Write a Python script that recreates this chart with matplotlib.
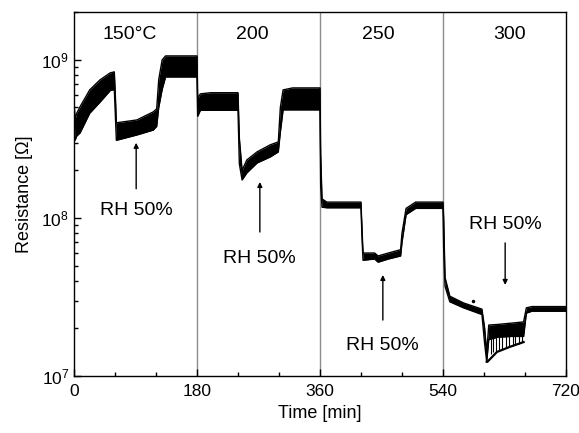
import numpy as np
import matplotlib
matplotlib.use('Agg')
from matplotlib import pyplot as plt
from matplotlib.ticker import LogLocator, FixedLocator, NullFormatter

plt.rcParams['font.family'] = ['Liberation Sans', 'DejaVu Sans']

# time [min], upper / lower edge of the noisy trace [Ohm]
time = [0, 1.5, 4, 8.8, 23, 38, 53, 59, 60.5, 62, 92, 116, 121, 124, 129, 134, 180,
        181, 185, 200, 240, 242, 246, 253, 268, 287, 299, 302, 306, 320, 360,
        361, 363, 370, 420, 421.5, 423, 440, 445, 460, 478, 480, 486, 500, 540,
        541, 543, 550, 570, 597, 601, 604, 607, 620, 640, 658, 662, 670, 720]
r_upper = [5.6e8, 4.2e8, 4.6e8, 5.05e8, 6.46e8, 7.47e8, 8.28e8, 8.4e8, 6.0e8, 4.0e8, 4.17e8, 4.69e8, 4.9e8, 7.5e8, 1.0e9, 1.06e9, 1.06e9,
           5.75e8, 6.1e8, 6.2e8, 6.2e8, 3.2e8, 2.0e8, 2.33e8, 2.62e8, 2.9e8, 3.03e8, 5.0e8, 6.46e8, 6.65e8, 6.65e8,
           2.5e8, 1.32e8, 1.26e8, 1.26e8, 8.5e7, 6.0e7, 6.0e7, 5.75e7, 6.0e7, 6.3e7, 8.0e7, 1.15e8, 1.26e8, 1.26e8,
           1.0e8, 4.2e7, 3.2e7, 2.9e7, 2.65e7, 2.0e7, 1.4e7, 2.1e7, 2.12e7, 2.16e7, 2.2e7, 2.7e7, 2.75e7, 2.75e7]
r_lower = [4.6e8, 3.1e8, 3.3e8, 3.45e8, 4.6e8, 5.4e8, 6.4e8, 6.5e8, 4.5e8, 3.1e8, 3.35e8, 3.6e8, 3.8e8, 5.0e8, 6.5e8, 7.8e8, 7.8e8,
           4.4e8, 4.8e8, 4.8e8, 4.8e8, 2.2e8, 1.74e8, 1.93e8, 2.23e8, 2.43e8, 2.62e8, 3.5e8, 4.83e8, 4.83e8, 4.83e8,
           1.6e8, 1.17e8, 1.16e8, 1.16e8, 7.5e7, 5.4e7, 5.5e7, 5.25e7, 5.5e7, 5.75e7, 7.0e7, 1.05e8, 1.15e8, 1.15e8,
           6.3e7, 3.7e7, 2.95e7, 2.7e7, 2.45e7, 1.6e7, 1.23e7, 1.7e7, 1.76e7, 1.78e7, 1.78e7, 2.5e7, 2.57e7, 2.57e7]

# 300 °C: lower edge under the spiky part, and the spikes
min_env_t = [604, 605, 619, 638, 658]
min_env_r = [1.23e7, 1.23e7, 1.42e7, 1.53e7, 1.64e7]
spike_t = [610, 613, 617, 622, 627, 632, 637, 642, 646, 651, 656]
spike_lo = [1.38e7, 1.41e7, 1.42e7, 1.45e7, 1.48e7, 1.51e7, 1.53e7, 1.55e7, 1.57e7, 1.6e7, 1.63e7]

outlier_t = [584]
outlier_r = [3.0e7]

seg_edges = [180, 360, 540]
temp_labels = ['150°C', '200', '250', '300']
temp_t = [81, 261, 445, 637]

# RH 50% arrows: x, tail, tip, text y
rh_t = [91, 272, 452, 631]
rh_tail = [1.53e8, 8.15e7, 2.26e7, 6.95e7]
rh_tip = [2.99e8, 1.69e8, 4.36e7, 3.77e7]
rh_text = [1.12e8, 5.58e7, 1.57e7, 9.04e7]


def main():
    fig = plt.figure(figsize=(5.79, 4.33), dpi=100)
    ax = fig.add_axes([0.1278, 0.1316, 0.8497, 0.8407])

    for x in seg_edges:
        ax.axvline(x, color='#8c8c8c', lw=1.0, zorder=1)

    ax.fill_between(time, r_lower, r_upper, color='black', lw=0, zorder=2)
    ax.plot(time, r_upper, color='black', lw=1.0, zorder=3)
    ax.plot(time, r_lower, color='black', lw=1.0, zorder=3)
    ax.plot(min_env_t, min_env_r, color='black', lw=1.6, zorder=3)
    ax.vlines(spike_t, spike_lo, [1.8e7] * len(spike_t), color='black', lw=0.8, zorder=3)
    ax.plot(outlier_t, outlier_r, 'k.', ms=3)

    for lab, t in zip(temp_labels, temp_t):
        ax.text(t, 1.44e9, lab, ha='center', va='center', fontsize=14)

    for t, a, b, ty in zip(rh_t, rh_tail, rh_tip, rh_text):
        ax.annotate('', xy=(t, b), xytext=(t, a),
                    arrowprops=dict(arrowstyle='-|>', color='black', lw=1.0,
                                    mutation_scale=7, shrinkA=0, shrinkB=0))
        ax.text(t, ty, 'RH 50%', ha='center', va='center', fontsize=14)

    ax.set_yscale('log')
    ax.set_xlim(0, 720)
    ax.set_ylim(1e7, 2.01e9)
    ax.set_xticks([0, 180, 360, 540, 720])
    ax.xaxis.set_minor_locator(FixedLocator([60, 120, 240, 300, 420, 480, 600, 660]))
    ax.yaxis.set_major_locator(LogLocator(base=10, numticks=10))
    ax.yaxis.set_minor_locator(LogLocator(base=10, subs=np.arange(2, 10), numticks=10))
    ax.yaxis.set_minor_formatter(NullFormatter())
    ax.tick_params(which='both', direction='in', top=False, right=False, labelsize=12.5)
    ax.tick_params(which='major', length=5, width=1)
    ax.tick_params(which='minor', length=3, width=1)
    ax.tick_params(axis='x', pad=6)

    for s in ax.spines.values():
        s.set_linewidth(1.0)

    ax.set_xlabel('Time [min]', fontsize=13, labelpad=4)
    ax.set_ylabel('Resistance [Ω]', fontsize=13, labelpad=6)

    fig.savefig('out.png', dpi=100)


if __name__ == '__main__':
    main()
